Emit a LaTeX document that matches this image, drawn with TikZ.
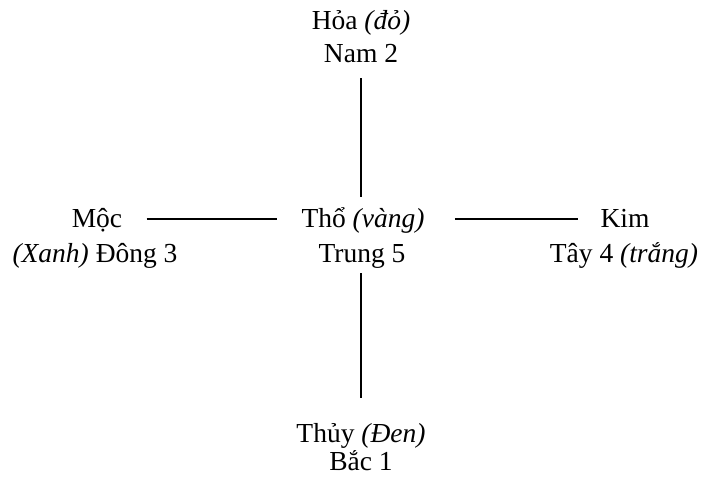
\documentclass[tikz,border=0pt]{standalone}
\usepackage{fontspec}
\setmainfont{Liberation Serif}
\usetikzlibrary{positioning}

\begin{document}
\begin{tikzpicture}[x=1pt, y=-1pt, thick, hanh/.style={font=\fontsize{27.5}{30}\selectfont, anchor=base, inner sep=0pt, text height=20pt, text depth=7pt}]
\useasboundingbox (0,0) rectangle (703,478);
\begin{scope}[every node/.style={hanh}]
\node (hoa)   at (361,30)  {Hỏa \textit{(đỏ)}};
\node (nam)   at (361,63)  {Nam 2};
\node (tho)   at (363,227) {Thổ \textit{(vàng)}};
\node (trung) at (362,262) {Trung 5};
\node (moc)   at (97,227)  {Mộc};
\node (dong)  at (95,262)  {\textit{(Xanh)} Đông 3};
\node (kim)   at (625,227) {Kim};
\node (tay)   at (624,262) {Tây 4 \textit{(trắng)}};
\node (thuy)  at (361,442) {Thủy \textit{(Đen)}};
\node (bac)   at (361,470) {Bắc 1};
\end{scope}
\begin{scope}[line width=2.5pt]
\draw[shorten <=8pt, shorten >=10pt] (nam.south -| 361,0) -- (tho.north -| 361,0);
\draw[shorten <=4pt, shorten >=24pt] (trung.south -| 361,0) -- (thuy.north -| 361,0);
\draw[shorten <=24pt, shorten >=24pt] ([yshift=1.5pt]moc.east) -- ([yshift=1.5pt]moc.east -| tho.west);
\draw[shorten <=30pt, shorten >=22pt] ([yshift=1.5pt]tho.east) -- ([yshift=1.5pt]tho.east -| kim.west);
\end{scope}
\end{tikzpicture}
\end{document}
